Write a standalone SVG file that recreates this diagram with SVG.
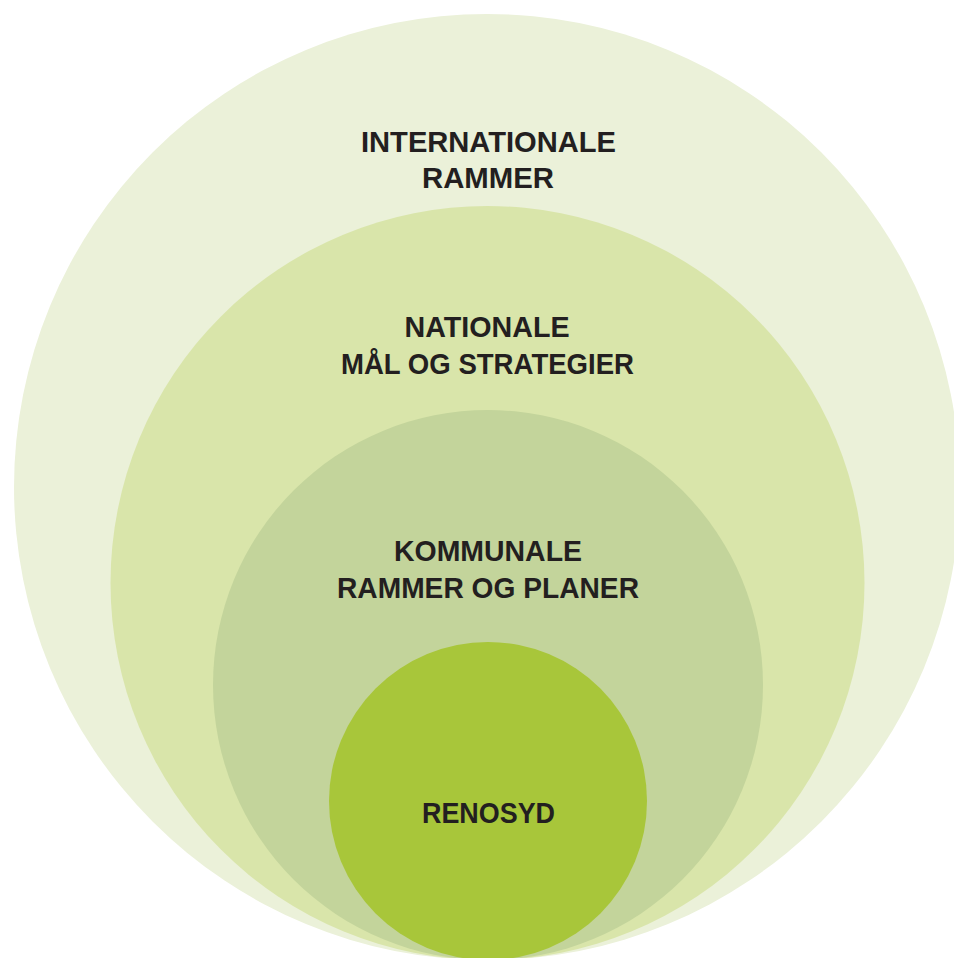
<svg xmlns="http://www.w3.org/2000/svg" width="954" height="958" viewBox="0 0 954 958">
<style>
.lbl{font-family:"Liberation Sans",Arial,sans-serif;font-weight:bold;font-size:30px;fill:#231f20;text-anchor:middle}
</style>
<rect width="954" height="958" fill="#ffffff"/>
<g id="internationale">
<circle cx="487" cy="487" r="473" fill="#ebf1d9"/>
<text class="lbl" x="488.5" y="152" textLength="255" lengthAdjust="spacingAndGlyphs">INTERNATIONALE</text>
<text class="lbl" x="488" y="188" textLength="132" lengthAdjust="spacingAndGlyphs">RAMMER</text>
</g>
<g id="nationale">
<circle cx="487.5" cy="583" r="377" fill="#d9e5aa"/>
<text class="lbl" x="487" y="337" textLength="165" lengthAdjust="spacingAndGlyphs">NATIONALE</text>
<text class="lbl" x="487.5" y="374" textLength="293" lengthAdjust="spacingAndGlyphs">MÅL OG STRATEGIER</text>
</g>
<g id="kommunale">
<circle cx="488" cy="685" r="275" fill="#c3d49b"/>
<text class="lbl" x="488" y="561" textLength="188" lengthAdjust="spacingAndGlyphs">KOMMUNALE</text>
<text class="lbl" x="488" y="598" textLength="302" lengthAdjust="spacingAndGlyphs">RAMMER OG PLANER</text>
</g>
<g id="renosyd">
<circle cx="488" cy="801" r="159" fill="#a8c63a"/>
<text class="lbl" x="488.5" y="823" textLength="133" lengthAdjust="spacingAndGlyphs">RENOSYD</text>
</g>
<g id="connectors"></g>
</svg>
